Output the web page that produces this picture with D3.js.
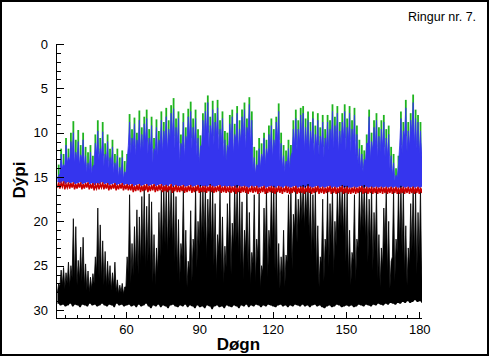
<!DOCTYPE html>
<html><head><meta charset="utf-8">
<script src="https://cdn.jsdelivr.net/npm/d3@7"></script>
<style>
html,body{margin:0;padding:0;background:#fff;}
svg{display:block;}
text{font-family:Arial,"Liberation Sans",Helvetica,sans-serif;}
</style></head>
<body>
<svg id="chart" width="490" height="357"></svg>
<script>
// Days 32..181 (one entry per day)
const firstDay = 32;
const xTicks = [60, 90, 120, 150, 180];
const yTicks = [0, 5, 10, 15, 20, 25, 30];
const title = "Ringur nr. 7.";
const xLabel = "Døgn";
const yLabel = "Dýpi";

// Green series: shallowest depth each day
const greenTop = [
13.6,11.8,12.4,10.6,11.8,10.0,8.7,10.8,9.7,11.4,
10.0,11.6,12.2,11.4,12.6,10.2,8.6,10.6,8.8,11.2,
10.2,11.8,10.8,12.4,11.8,12.8,12.0,13.2,12.4,7.9,
9.6,8.3,10.0,7.5,9.4,8.2,7.4,9.6,8.2,10.6,
8.5,9.8,7.6,8.8,7.2,8.6,6.9,6.1,8.4,7.6,
10.2,7.8,9.4,7.3,6.5,8.4,7.4,9.6,10.3,7.8,
6.6,5.8,8.2,6.4,7.8,6.3,8.6,7.6,9.8,10.0,
8.0,7.4,9.0,7.0,8.6,7.4,6.6,8.4,6.0,7.6,
11.6,12.0,10.6,11.2,10.0,10.8,9.2,8.4,9.6,8.2,
6.7,10.0,11.4,12.0,10.8,11.4,8.6,7.4,8.6,7.2,
7.0,8.4,7.6,8.8,7.6,9.2,7.8,9.4,8.0,9.6,
8.0,8.6,6.8,8.2,7.0,8.8,7.8,6.8,8.4,7.0,
8.6,7.2,9.2,10.8,11.4,12.0,10.2,7.4,10.0,8.6,
7.8,9.4,8.6,8.0,9.6,9.2,11.6,12.4,14.0,12.6,
7.6,8.8,6.3,8.8,7.8,5.7,7.4,8.0,8.8,9.3
];

// Blue series: spike tops and lower tops each day
const blueTop = [
14.8,12.4,13.6,11.4,12.8,11.0,10.0,12.2,11.0,12.5,
10.8,12.6,13.4,12.2,13.8,11.2,9.8,11.8,9.9,12.4,
11.0,12.8,11.6,13.4,12.6,13.9,12.8,14.4,13.2,8.8,
10.6,9.0,10.8,8.6,10.2,9.0,8.4,10.6,9.2,11.8,
9.4,10.8,8.6,9.8,8.2,9.6,7.8,7.3,9.4,8.4,
11.2,8.8,10.4,8.2,7.6,9.4,8.4,10.6,11.5,8.6,
7.6,6.6,9.2,7.4,8.8,7.2,9.6,8.4,10.8,11.4,
9.0,8.2,10.2,7.8,9.6,8.2,7.4,9.4,6.8,8.6,
12.8,13.6,11.8,12.4,10.6,11.8,10.2,9.2,10.8,8.8,
7.6,11.2,12.6,13.2,11.8,12.6,9.6,8.4,9.6,8.0,
7.8,9.4,8.6,9.8,8.4,10.2,8.6,10.4,8.8,10.6,
8.8,9.6,7.6,9.2,7.8,9.8,8.8,7.6,9.4,7.8,
9.6,8.0,10.2,11.8,12.4,13.0,11.2,8.2,11.0,9.4,
8.6,10.4,9.6,8.8,10.6,10.2,12.6,13.4,14.8,13.6,
8.4,9.8,7.2,9.8,8.6,6.6,8.4,8.8,9.8,10.2
];
const blueBody = [
15.2,14.6,14.0,13.8,13.4,13.2,12.6,13.4,13.0,13.6,
13.0,13.8,14.4,14.2,14.6,13.6,12.4,13.2,12.6,13.8,
13.2,14.0,13.6,14.6,14.2,15.0,14.8,15.2,14.6,11.4,
12.4,11.6,12.6,11.4,12.2,11.8,11.0,12.4,11.8,13.4,
12.0,12.6,11.4,12.2,11.0,12.0,10.8,10.4,11.8,11.2,
13.2,11.6,12.8,11.0,10.6,11.8,11.2,12.6,13.4,11.4,
10.6,10.0,11.8,10.4,11.4,10.2,12.0,11.2,12.8,13.2,
11.8,11.0,12.4,10.8,12.0,11.0,10.4,11.8,10.0,11.4,
14.2,14.6,13.8,14.0,13.0,13.6,12.6,12.0,12.8,11.6,
10.8,13.2,14.0,14.4,13.6,14.0,12.2,11.4,12.0,11.0,
10.8,12.0,11.4,12.2,11.2,12.6,11.4,12.6,11.6,12.8,
11.6,12.0,10.8,11.8,10.8,12.2,11.4,10.6,12.0,10.8,
12.2,11.0,12.6,13.6,14.0,14.4,13.2,11.2,13.0,12.0,
11.6,12.8,12.2,11.6,12.8,12.6,14.0,14.8,15.4,15.0,
11.4,12.4,10.4,12.2,11.6,10.0,11.4,11.8,12.4,12.8
];

// Red series: shallowest and deepest each day
const redTop = [
15.6,15.7,15.5,15.8,15.6,15.7,15.6,15.8,15.7,15.6,
15.8,15.7,15.6,15.8,15.7,15.9,15.7,15.8,15.6,15.8,
15.7,15.9,15.8,15.7,15.9,15.8,15.7,15.9,15.8,15.9,
15.8,16.0,15.9,15.8,16.0,15.9,15.8,16.0,15.9,15.8,
16.0,15.9,15.8,16.0,15.9,16.0,15.8,16.1,15.9,16.0,
16.0,15.9,16.1,16.0,15.9,16.1,16.0,15.9,16.1,16.0,
16.0,16.1,15.9,16.0,16.1,16.0,15.9,16.1,16.0,16.1,
16.0,16.1,16.0,16.2,16.0,16.1,16.0,16.1,16.2,16.0,
16.1,16.0,16.2,16.1,16.0,16.2,16.1,16.0,16.1,16.2,
16.0,16.1,16.2,16.0,16.1,16.2,16.1,16.0,16.2,16.1,
16.1,16.2,16.0,16.1,16.2,16.1,16.0,16.2,16.1,16.2,
16.1,16.0,16.2,16.1,16.2,16.1,16.0,16.2,16.1,16.2,
16.2,16.1,16.2,16.1,16.0,16.2,16.1,16.2,16.1,16.2,
16.1,16.2,16.1,16.2,16.1,16.2,16.1,16.2,16.1,16.2,
16.2,16.1,16.2,16.1,16.2,16.1,16.2,16.1,16.2,16.1
];
const redBot = [
16.2,16.3,16.1,16.4,16.2,16.3,16.2,16.4,16.3,16.2,
16.4,16.3,16.2,16.4,16.3,16.5,16.3,16.4,16.2,16.4,
16.3,16.5,16.4,16.3,16.5,16.4,16.3,16.5,16.4,16.5,
16.5,16.7,16.6,16.5,16.7,16.6,16.5,16.7,16.6,16.5,
16.7,16.6,16.5,16.7,16.6,16.7,16.5,16.8,16.6,16.7,
16.7,16.6,16.8,16.7,16.6,16.8,16.7,16.6,16.8,16.7,
16.7,16.8,16.6,16.7,16.8,16.7,16.6,16.8,16.7,16.8,
16.7,16.8,16.7,16.9,16.7,16.8,16.7,16.8,16.9,16.7,
16.8,16.7,16.9,16.8,16.7,16.9,16.8,16.7,16.8,16.9,
16.7,16.8,16.9,16.7,16.8,16.9,16.8,16.7,16.9,16.8,
16.8,16.9,16.7,16.8,16.9,16.8,16.7,16.9,16.8,16.9,
16.8,16.7,16.9,16.8,16.9,16.8,16.7,16.9,16.8,16.9,
16.9,16.8,16.9,16.8,16.7,16.9,16.8,16.9,16.8,16.9,
16.8,16.9,16.8,16.9,16.8,16.9,16.8,16.9,16.8,16.9,
16.9,16.8,16.9,16.8,16.9,16.8,16.9,16.8,16.9,16.8
];

// Black series: spike tops, lower tops and deepest each day
const blackTop = [
27.0,25.5,25.2,25.8,24.6,25.0,19.7,20.6,24.4,22.9,
21.8,24.8,25.6,26.3,25.9,24.0,18.5,20.4,22.2,23.4,
24.5,25.0,25.8,24.6,26.6,27.2,27.0,27.4,24.0,17.0,
22.5,20.6,18.7,19.5,17.2,16.1,18.3,16.9,17.8,21.5,
23.0,19.0,16.5,16.0,15.9,16.2,16.0,16.0,17.2,19.8,
22.5,16.4,21.0,24.5,18.8,22.0,16.3,20.0,15.9,16.2,
16.0,17.5,15.8,16.3,18.0,21.5,16.4,19.5,22.8,18.0,
16.6,20.2,16.0,15.9,16.5,17.8,21.0,16.2,19.0,23.5,
17.0,22.0,16.8,25.0,18.5,16.4,21.0,16.2,16.0,16.2,
22.5,24.0,21.0,23.8,17.0,16.3,19.2,16.1,17.5,16.0,
15.9,16.0,15.8,16.2,17.0,16.3,20.5,24.0,17.5,22.0,
16.5,18.0,16.2,20.0,16.4,16.1,15.9,16.0,16.0,21.0,
23.5,17.0,22.0,16.3,16.0,15.9,16.2,17.5,16.1,19.0,
16.4,21.5,23.0,18.5,16.3,20.0,24.5,16.5,22.0,16.3,
16.0,16.2,20.5,23.0,18.0,16.1,16.5,19.0,16.3,22.5
];
const blackBody = [
28.0,27.4,27.2,27.6,27.0,27.4,26.4,26.8,27.2,26.6,
26.8,27.4,27.8,28.0,27.6,27.0,25.8,26.4,26.8,27.2,
27.4,27.2,27.8,27.4,28.0,28.2,28.0,28.2,27.4,26.0,
27.0,26.2,25.6,26.0,25.0,24.2,25.4,24.6,25.8,27.0,
27.2,25.8,24.0,23.2,22.6,23.8,22.0,23.0,24.6,26.0,
27.0,24.0,26.4,27.4,25.6,26.8,23.6,25.4,22.8,22.4,
22.0,24.4,21.6,23.0,25.0,26.6,23.4,25.8,27.0,25.2,
23.6,26.0,22.8,22.4,23.8,25.0,26.6,23.4,25.8,27.2,
24.8,27.0,24.2,27.6,25.8,23.6,26.4,23.2,22.6,25.6,
27.0,27.6,26.4,27.4,24.6,22.8,25.4,21.0,22.4,20.6,
20.0,20.8,19.6,21.8,24.0,23.2,26.2,27.4,24.8,26.8,
23.4,25.2,22.6,26.0,22.8,21.4,20.6,21.8,24.6,26.4,
27.2,24.4,26.8,23.0,21.6,20.8,22.2,24.6,23.0,25.6,
23.4,26.6,27.4,25.2,22.8,26.0,27.6,24.0,26.8,23.6,
22.6,23.8,26.0,27.2,25.0,23.4,24.2,26.0,24.0,26.8
];
const blackBot = [
29.3,29.5,29.4,29.6,29.5,29.3,29.6,29.4,29.5,29.7,
29.4,29.5,29.6,29.3,29.5,29.4,29.6,29.5,29.3,29.5,
29.6,29.4,29.5,29.7,29.3,29.5,29.4,29.6,29.5,29.4,
29.6,29.5,29.7,29.4,29.6,29.5,29.3,29.6,29.8,29.5,
29.6,29.4,29.7,29.5,29.6,29.8,29.5,29.4,29.6,29.7,
29.5,29.6,29.4,29.7,29.5,29.6,29.8,29.5,29.7,29.6,
29.8,29.5,29.6,29.9,29.6,29.5,29.7,29.6,29.8,29.5,
29.6,29.7,29.5,29.6,29.8,29.5,29.6,29.4,29.7,29.5,
29.6,29.4,29.5,29.7,29.5,29.6,29.4,29.5,29.6,29.7,
29.5,29.4,29.6,29.5,29.7,29.5,29.6,29.4,29.5,29.6,
29.4,29.6,29.5,29.7,29.5,29.4,29.6,29.5,29.7,29.8,
29.6,29.5,29.7,29.6,29.4,29.5,29.7,29.6,29.5,29.6,
29.5,29.7,29.6,29.4,29.5,29.6,29.4,29.5,29.6,29.4,
29.5,29.3,29.4,29.5,29.3,29.4,29.2,29.3,29.4,29.2,
29.3,29.1,29.2,29.0,29.2,29.1,28.9,29.1,29.0,29.2
];

const svg = d3.select("#chart");
const W = 490, H = 357;
svg.append("rect").attr("x",0).attr("y",0).attr("width",W).attr("height",H).attr("fill","#fff");
svg.append("rect").attr("x",1).attr("y",1).attr("width",487).attr("height",354)
  .attr("fill","none").attr("stroke","#000").attr("stroke-width",2);

const x = d3.scaleLinear().domain([31.4, 181]).range([56, 421.7]);
const y = d3.scaleLinear().domain([0, 30.9]).range([44, 318]);

svg.append("defs").append("clipPath").attr("id","clip")
  .append("rect").attr("x",56).attr("y",44).attr("width",366).attr("height",274);

const plot = svg.append("g").attr("clip-path","url(#clip)");

// Band points: at day d the lower top, at d+0.5 the spike top
function band(lowTop, spikeTop, floor){
  const pts = [];
  lowTop.forEach((v,i)=>{
    const d = firstDay + i;
    pts.push({d: d, y0: floor[i], y1: v});
    pts.push({d: d + 0.5, y0: floor[i], y1: spikeTop[i]});
  });
  return pts;
}
const area = d3.area().x(p=>x(p.d)).y0(p=>y(p.y0)).y1(p=>y(p.y1));
const edge = d3.line().x(p=>x(p.d)).y(p=>y(p.y1));

// Green: one thin spike per day, from the blue body up to the green top
plot.append("g").selectAll("line").data(greenTop).join("line")
  .attr("x1",(v,i)=>x(firstDay + i + 0.5)).attr("x2",(v,i)=>x(firstDay + i + 0.5))
  .attr("y1",(v,i)=>y(blueBody[i])).attr("y2",v=>y(v))
  .attr("stroke","#1fb41f").attr("stroke-width",1.8);

const bluePts = band(blueBody, blueTop, redTop);
plot.append("path").datum(bluePts).attr("d", area).attr("fill","#3535ee");
plot.append("path").datum(bluePts).attr("d", edge).attr("fill","none")
  .attr("stroke","#3535ee").attr("stroke-width",0.8);

const blackPts = band(blackBody, blackTop, blackBot);
plot.append("path").datum(blackPts).attr("d", area).attr("fill","#000");
plot.append("path").datum(blackPts).attr("d", edge).attr("fill","none")
  .attr("stroke","#000").attr("stroke-width",0.8);

const redPts = [];
redTop.forEach((v,i)=>{
  redPts.push([firstDay + i, redBot[i]]);
  redPts.push([firstDay + i + 0.5, v]);
});
plot.append("path").datum(redPts)
  .attr("d", d3.line().x(p=>x(p[0])).y(p=>y(p[1])))
  .attr("fill","none").attr("stroke","#c80000").attr("stroke-width",1.5);

// Axes
const yAxis = d3.axisLeft(y).tickValues(yTicks).tickSize(0).tickPadding(8);
const gy = svg.append("g").attr("transform","translate(56,0)").call(yAxis);
gy.select(".domain").remove();
gy.selectAll("text").attr("font-size",13).attr("fill","#000")
  .attr("font-family","Arial, 'Liberation Sans', sans-serif");

const xAxis = d3.axisBottom(x).tickValues(xTicks).tickSize(0).tickPadding(7);
const gx = svg.append("g").attr("transform","translate(0,318)").call(xAxis);
gx.select(".domain").remove();
gx.selectAll("text").attr("font-size",13).attr("fill","#000")
  .attr("font-family","Arial, 'Liberation Sans', sans-serif");

const axes = svg.append("g").attr("stroke","#000").attr("stroke-width",1).attr("shape-rendering","crispEdges");
axes.append("line").attr("x1",56.5).attr("x2",56.5).attr("y1",y(0)).attr("y2",318.5);
axes.append("line").attr("x1",56.5).attr("x2",x(181)).attr("y1",318.5).attr("y2",318.5);
d3.range(0, 31, 1).forEach(v=>{
  const len = v % 5 === 0 ? 7 : 4;
  axes.append("line").attr("x1",56.5).attr("x2",56.5+len)
    .attr("y1",Math.round(y(v))+0.5).attr("y2",Math.round(y(v))+0.5);
});
d3.range(35, 181, 5).forEach(v=>{
  const len = v % 30 === 0 ? 7 : 4;
  axes.append("line").attr("y1",318.5).attr("y2",318.5-len)
    .attr("x1",Math.round(x(v))+0.5).attr("x2",Math.round(x(v))+0.5);
});

svg.append("text").attr("x", x(106)).attr("y", 350).attr("text-anchor","middle")
  .attr("font-size",17).attr("font-weight","bold").text(xLabel);
svg.append("text").attr("transform","translate(25,180) rotate(-90)").attr("text-anchor","middle")
  .attr("font-size",17).attr("font-weight","bold").text(yLabel);
svg.append("text").attr("x",408).attr("y",21).attr("font-size",12.5).text(title);
</script>
</body></html>
